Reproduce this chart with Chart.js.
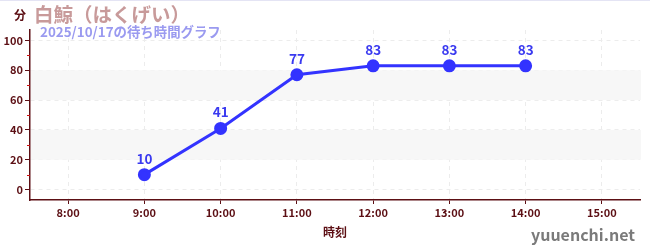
<!DOCTYPE html>
<html>
<head>
<meta charset="utf-8">
<script src="https://cdn.jsdelivr.net/npm/chart.js@4/dist/chart.umd.min.js"></script>
<style>
  html, body { margin: 0; padding: 0; background: #fff; }
  #wrap { width: 650px; height: 250px; position: relative; }
  #topline { position: absolute; left: 0; top: 0; width: 650px; height: 1px; background: #e4e4f4; }
</style>
</head>
<body>
<div id="wrap">
  <canvas id="myChart" width="650" height="250"></canvas>
  <div id="topline"></div>
</div>
<script>
const hours = ['8:00', '9:00', '10:00', '11:00', '12:00', '13:00', '14:00', '15:00'];
const waitMinutes = [null, 10, 41, 77, 83, 83, 83, null];
const yTicks = [0, 20, 40, 60, 80, 100];
const yMinorTicks = [10, 30, 50, 70, 90];
const bands = [[20, 40], [60, 80]];

const titleText = '白鯨（はくげい）';
const subtitleText = '2025/10/17の待ち時間グラフ';
const unitText = '分';
const xTitleText = '時刻';
const watermarkText = 'yuuenchi.net';

const FONT = '"Noto Sans CJK JP", "Noto Sans", sans-serif';
const axisColor = '#5c0f14';

const decorPlugin = {
    id: 'decor',
    beforeDatasetsDraw(chart) {
        const ctx = chart.ctx;
        const area = chart.chartArea;
        const y = chart.scales.y;
        ctx.save();
        ctx.fillStyle = '#f7f7f7';
        bands.forEach(([a, b]) => {
            const top = y.getPixelForValue(b);
            const bottom = y.getPixelForValue(a);
            ctx.fillRect(area.left + 1, top, area.right - area.left, bottom - top);
        });
        ctx.restore();
    },
    afterDraw(chart) {
        const ctx = chart.ctx;
        const y = chart.scales.y;
        const area = chart.chartArea;
        ctx.save();

        // minor ticks
        ctx.strokeStyle = '#d01010';
        ctx.lineWidth = 1;
        yMinorTicks.forEach(v => {
            const py = Math.round(y.getPixelForValue(v)) + 0.5;
            ctx.beginPath();
            ctx.moveTo(area.left - 3, py);
            ctx.lineTo(area.left, py);
            ctx.stroke();
        });

        // point labels
        const meta = chart.getDatasetMeta(0);
        ctx.fillStyle = '#3a3af0';
        ctx.font = 'bold 13.5px ' + FONT;
        ctx.textAlign = 'center';
        ctx.textBaseline = 'alphabetic';
        meta.data.forEach((pt, i) => {
            const v = waitMinutes[i];
            if (v === null || v === undefined) return;
            ctx.fillText(String(v), pt.x, pt.y - 11);
        });

        // titles
        ctx.textAlign = 'left';
        ctx.fillStyle = axisColor;
        ctx.font = 'bold 12px ' + FONT;
        ctx.fillText(unitText, 14, 20);
        ctx.fillStyle = '#c89a9a';
        ctx.font = 'bold 19.5px ' + FONT;
        ctx.fillText(titleText, 34, 22);
        ctx.fillStyle = '#9a9af0';
        ctx.font = 'bold 13.4px ' + FONT;
        ctx.fillText(subtitleText, 40, 37);

        // watermark
        ctx.fillStyle = '#7a7a7a';
        ctx.font = 'bold 16px ' + FONT;
        ctx.textAlign = 'right';
        ctx.fillText(watermarkText, 635, 241);
        ctx.restore();
    }
};

const myChart = new Chart(document.getElementById('myChart').getContext('2d'), {
    type: 'line',
    data: {
        labels: hours,
        datasets: [{
            data: waitMinutes,
            borderColor: '#3333ff',
            backgroundColor: '#3333ff',
            borderWidth: 3,
            pointRadius: 5,
            pointHoverRadius: 5,
            tension: 0,
            spanGaps: false
        }]
    },
    options: {
        responsive: false,
        animation: false,
        layout: { padding: { left: 0, right: 10, top: 30, bottom: 0 } },
        plugins: {
            legend: { display: false },
            tooltip: { enabled: false }
        },
        scales: {
            x: {
                offset: true,
                grid: {
                    color: '#ececec',
                    tickColor: axisColor,
                    tickLength: 4,
                    offset: false
                },
                border: { color: axisColor, width: 1.5, dash: [4, 4] },
                ticks: {
                    color: axisColor,
                    font: { family: FONT, size: 11, weight: 'bold' },
                    padding: 2,
                    maxRotation: 0
                },
                title: {
                    display: true,
                    text: xTitleText,
                    color: axisColor,
                    font: { family: FONT, size: 12, weight: 'bold' },
                    padding: { top: 0, bottom: 10 }
                },
                afterFit(scale) { scale.height = 50; }
            },
            y: {
                min: -7,
                max: 107,
                afterBuildTicks(scale) {
                    scale.ticks = yTicks.map(v => ({ value: v }));
                },
                grid: {
                    color: '#ececec',
                    tickColor: axisColor,
                    tickLength: 5
                },
                border: { color: axisColor, width: 1.5, dash: [4, 4] },
                ticks: {
                    color: axisColor,
                    font: { family: FONT, size: 11, weight: 'bold' },
                    padding: 2
                },
                afterFit(scale) { scale.width = 30; }
            }
        }
    },
    plugins: [decorPlugin]
});
</script>
</body>
</html>
